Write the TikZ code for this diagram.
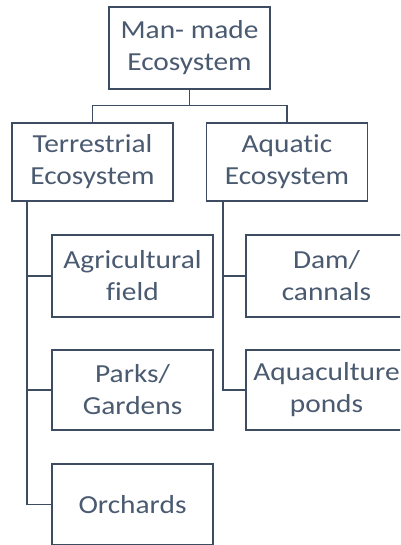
\documentclass[tikz,border=0pt]{standalone}
\usepackage{fontspec}
\setmainfont{Carlito}[FakeStretch=1.13,Ligatures=NoCommon]
\definecolor{boxline}{HTML}{3E4C61}
\definecolor{boxtext}{HTML}{4A5A70}
\tikzset{
  box/.style={draw=boxline, line width=1.3pt, minimum width=161pt, minimum height=80pt,
    align=center, text=boxtext, font=\fontsize{26}{32}\selectfont, inner sep=0pt},
  link/.style={draw=boxline, line width=1.1pt}
}

\begin{document}
\begin{tikzpicture}[x=1pt,y=1pt]
            \clip (0,0) rectangle (400,-545);
            \fill[white] (0,0) rectangle (400,-545);
            \node[box, minimum height=82pt] (mmade) at (189.5,-48) {Man- made\\Ecosystem};
            \node[box, minimum height=78pt] (terr) at (92.5,-162) {Terrestrial\\Ecosystem};
            \node[box, minimum height=78pt] (aqua) at (287,-162) {Aquatic\\Ecosystem};
            \node[box, minimum height=82pt] (agri) at (132.5,-276) {Agricultural\\field};
            \node[box] (parks) at (132.5,-390) {Parks/\\Gardens};
            \node[box, minimum height=81pt] (orch) at (132.5,-504.5) {Orchards};
            \node[box, minimum height=82pt] (dam) at (326.5,-276) {Dam/\\cannals};
            \node[box] (aquac) at (326.5,-390) {Aquaculture\\ponds};
            \coordinate (tline) at (27,-201);
            \coordinate (aline) at (223,-201);
            \draw[link] (mmade.south) -- ++(0,-16) -| (terr.north);
            \draw[link] (mmade.south) -- ++(0,-16) -| (aqua.north);
            \draw[link] (tline) |- (agri.west);
            \draw[link] (tline) |- (parks.west);
            \draw[link] (tline) |- (orch.west);
            \draw[link] (aline) |- (dam.west);
            \draw[link] (aline) |- (aquac.west);
        \end{tikzpicture}
\end{document}
